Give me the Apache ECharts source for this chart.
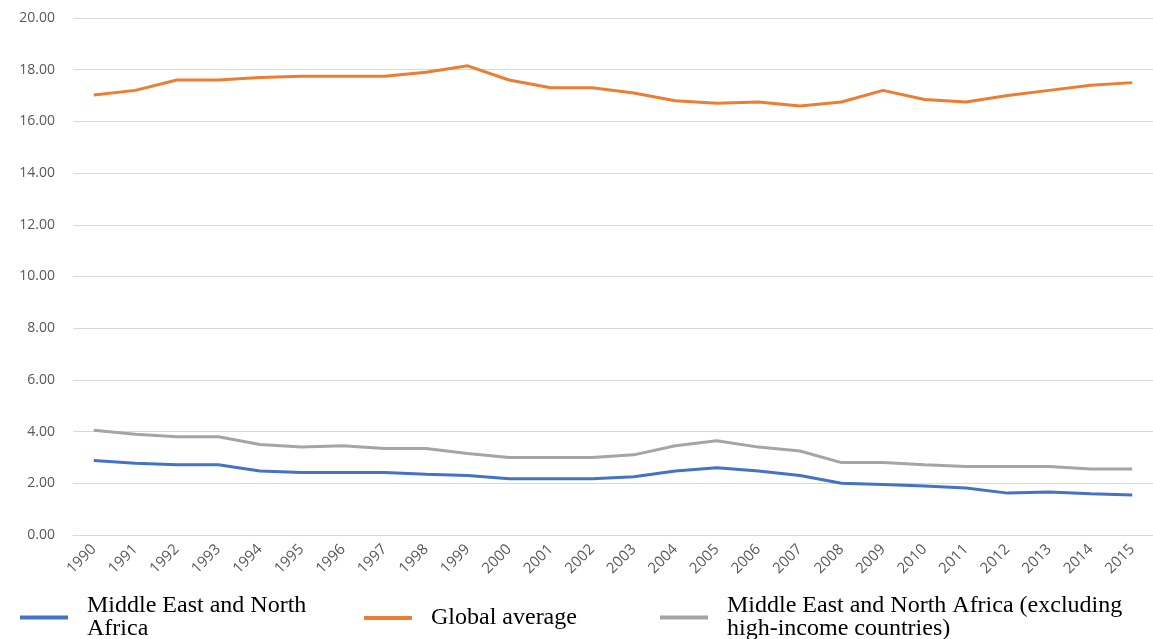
<!DOCTYPE html>
<html>
<head>
<meta charset="utf-8">
<script src="https://cdn.jsdelivr.net/npm/echarts@6/dist/echarts.min.js"></script>
<style>
  html, body { margin: 0; padding: 0; background: #fff; }
  #chart { width: 1153px; height: 639px; }
</style>
</head>
<body>
<div id="chart"></div>
<script>
var years = ["1990","1991","1992","1993","1994","1995","1996","1997","1998","1999","2000","2001","2002",
  "2003","2004","2005","2006","2007","2008","2009","2010","2011","2012","2013","2014","2015"];
var menaValues = [2.88,2.78,2.72,2.72,2.48,2.42,2.42,2.42,2.35,2.30,2.18,2.18,2.18,
  2.25,2.48,2.60,2.48,2.30,2.00,1.95,1.90,1.82,1.62,1.66,1.60,1.55];
var globalValues = [17.02,17.20,17.60,17.60,17.70,17.75,17.75,17.75,17.90,18.15,17.60,17.30,17.30,
  17.10,16.80,16.70,16.75,16.60,16.75,17.20,16.85,16.75,17.00,17.20,17.40,17.50];
var menaExclValues = [4.05,3.90,3.80,3.80,3.50,3.40,3.45,3.35,3.35,3.15,3.00,3.00,3.00,
  3.10,3.45,3.65,3.40,3.25,2.80,2.80,2.72,2.65,2.65,2.65,2.55,2.55];
var seriesNames = ["Middle East and North Africa", "Global average",
  "Middle East and North Africa (excluding high-income countries)"];

var chart = echarts.init(document.getElementById("chart"), null, { renderer: "canvas" });

function makeLegend(name, left, top, label) {
  return {
    data: [name],
    left: left,
    top: top,
    itemWidth: 48,
    itemHeight: 4,
    icon: "rect",
    itemGap: 0,
    textStyle: {
      fontFamily: "Liberation Serif",
      fontSize: 24,
      color: "#000",
      lineHeight: 23,
      padding: [0, 0, 0, 14]
    },
    formatter: function () { return label; }
  };
}

var option = {
  animation: false,
  color: ["#4472C4", "#ED7D31", "#A5A5A5"],
  grid: {
    left: 73,
    right: -10,
    top: 18,
    bottom: 104
  },
  legend: [
    makeLegend(seriesNames[0], 15, 589, "Middle East and North\nAfrica"),
    makeLegend(seriesNames[1], 359, 601, "Global average"),
    makeLegend(seriesNames[2], 655, 589, "Middle East and North Africa (excluding\nhigh-income countries)")
  ],
  xAxis: {
    type: "category",
    data: years,
    boundaryGap: true,
    axisLine: { show: true, lineStyle: { color: "#d9d9d9" } },
    axisTick: { show: false },
    axisLabel: {
      rotate: 45,
      interval: 0,
      color: "#595959",
      fontSize: 15,
      fontFamily: "Open Sans",
      margin: 12
    }
  },
  yAxis: {
    type: "value",
    min: 0,
    max: 20,
    interval: 2,
    axisLine: { show: false },
    axisTick: { show: false },
    splitLine: { lineStyle: { color: "#d9d9d9", width: 1 } },
    axisLabel: {
      color: "#595959",
      fontSize: 14,
      fontFamily: "Open Sans",
      margin: 18,
      formatter: function (v) { return v.toFixed(2); }
    }
  },
  series: [
    {
      name: seriesNames[0],
      type: "line",
      data: menaValues,
      symbol: "none",
      lineStyle: { width: 3 }
    },
    {
      name: seriesNames[1],
      type: "line",
      data: globalValues,
      symbol: "none",
      lineStyle: { width: 3 }
    },
    {
      name: seriesNames[2],
      type: "line",
      data: menaExclValues,
      symbol: "none",
      lineStyle: { width: 3 }
    }
  ]
};

chart.setOption(option);
</script>
</body>
</html>
